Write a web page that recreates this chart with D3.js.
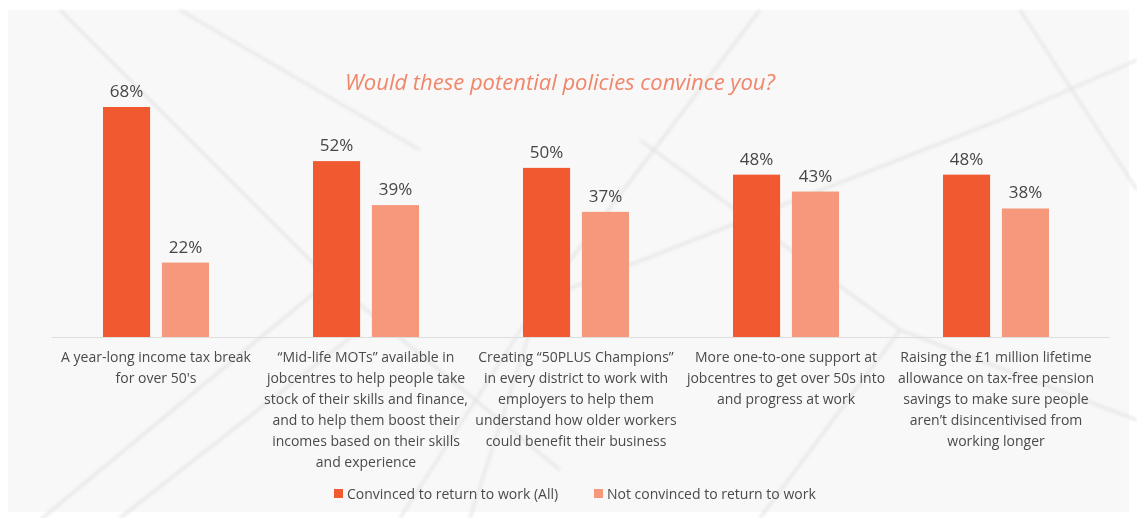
<!DOCTYPE html>
<html>
<head>
<meta charset="utf-8">
<script src="https://cdn.jsdelivr.net/npm/d3@7"></script>
<style>
  html, body { margin: 0; padding: 0; background: #ffffff; }
  svg { display: block; font-family: "Open Sans", "Noto Sans", sans-serif; }
</style>
</head>
<body>
<svg id="chart" width="1137" height="518"></svg>
<script>
// Policy options shown along the bottom, one line per array entry
const categories = [
  ["A year-long income tax break", "for over 50's"],
  ["\u201CMid-life MOTs\u201D available in", "jobcentres to help people take", "stock of their skills and finance,", "and to help them boost their", "incomes based on their skills", "and experience"],
  ["Creating \u201C50PLUS Champions\u201D", "in every district to work with", "employers to help them", "understand how older workers", "could benefit their business"],
  ["More one-to-one support at", "jobcentres to get over 50s into", "and progress at work"],
  ["Raising the \u00A31 million lifetime", "allowance on tax-free pension", "savings to make sure people", "aren\u2019t disincentivised from", "working longer"]
];
const seriesNames = ["Convinced to return to work (All)", "Not convinced to return to work"];
const convinced = [68, 52, 50, 48, 48];
const notConvinced = [22, 39, 37, 43, 38];
const seriesColors = ["#f15a31", "#f5987b"];

const svg = d3.select("#chart");
const W = 1137, H = 518;

// soft grey backdrop panel with a faint, blurred network pattern
const defs = svg.append("defs");
defs.append("filter").attr("id", "soft")
  .attr("x", "-10%").attr("y", "-10%").attr("width", "120%").attr("height", "120%")
  .append("feGaussianBlur").attr("stdDeviation", 1.6);

const bg = svg.append("g");
bg.append("rect").attr("x", 8).attr("y", 10).attr("width", W - 16).attr("height", H - 16)
  .attr("fill", "#f8f8f8");
const web = [
  [[60, 10], [330, 280]], [[330, 280], [560, 470]], [[330, 280], [40, 520]],
  [[760, 10], [540, 300]], [[540, 300], [470, 518]], [[540, 300], [1000, 120]],
  [[1000, 120], [1137, 60]], [[900, 330], [1137, 420]], [[900, 330], [760, 518]],
  [[180, 10], [420, 150]], [[640, 140], [900, 330]], [[120, 518], [360, 330]],
  [[1020, 10], [1137, 190]], [[400, 518], [540, 300]]
];
bg.append("g").attr("filter", "url(#soft)")
  .selectAll("line.web").data(web).join("line")
  .attr("class", "web")
  .attr("x1", d => d[0][0]).attr("y1", d => d[0][1])
  .attr("x2", d => d[1][0]).attr("y2", d => d[1][1])
  .attr("stroke", "#e2e2e2").attr("stroke-width", 3).attr("opacity", 0.7);

const rows = categories.map((c, i) => ({ idx: i, lines: c, values: [convinced[i], notConvinced[i]] }));

const x = d3.scaleBand().domain(d3.range(categories.length)).range([51, 1101]);
const xInner = d3.scaleBand().domain(d3.range(seriesNames.length)).range([-53, 53]).paddingInner(0.2);
const y = d3.scaleLinear().domain([0, 68]).range([337, 107]);

// title
svg.append("text")
  .attr("x", 560).attr("y", 90)
  .attr("text-anchor", "middle")
  .attr("font-size", 22).attr("font-style", "italic")
  .attr("fill", "#f0866a")
  .text("Would these potential policies convince you?");

// baseline
svg.append("line")
  .attr("x1", 52).attr("x2", 1110)
  .attr("y1", y(0) + 0.5).attr("y2", y(0) + 0.5)
  .attr("stroke", "#dedede").attr("stroke-width", 1);

const groups = svg.append("g").selectAll("g.grp").data(rows).join("g")
  .attr("class", "grp")
  .attr("transform", d => `translate(${x(d.idx) + x.bandwidth() / 2},0)`);

const bars = groups.selectAll("g.bar").data(d => d.values.map((v, s) => ({ v, s }))).join("g")
  .attr("class", "bar");

bars.append("rect")
  .attr("x", d => xInner(d.s))
  .attr("width", xInner.bandwidth())
  .attr("y", d => y(d.v))
  .attr("height", d => y(0) - y(d.v))
  .attr("fill", d => seriesColors[d.s]);

bars.append("text")
  .attr("x", d => xInner(d.s) + xInner.bandwidth() / 2)
  .attr("y", d => y(d.v) - 10)
  .attr("text-anchor", "middle")
  .attr("font-size", 17)
  .attr("fill", "#464646")
  .text(d => d.v + "%");

// category labels
groups.append("text")
  .attr("text-anchor", "middle")
  .attr("font-size", 14)
  .attr("fill", "#4a4a4a")
  .selectAll("tspan").data(d => d.lines).join("tspan")
  .attr("x", 0)
  .attr("y", (d, i) => 362 + i * 21)
  .text(d => d);

// legend
const legendX = [334, 594];
const legend = svg.append("g").selectAll("g").data(seriesNames).join("g")
  .attr("transform", (d, i) => `translate(${legendX[i]},489)`);
legend.append("rect").attr("width", 9).attr("height", 9)
  .attr("fill", (d, i) => seriesColors[i]);
legend.append("text").attr("x", 13).attr("y", 10)
  .attr("font-size", 14).attr("fill", "#4a4a4a")
  .text(d => d);
</script>
</body>
</html>
